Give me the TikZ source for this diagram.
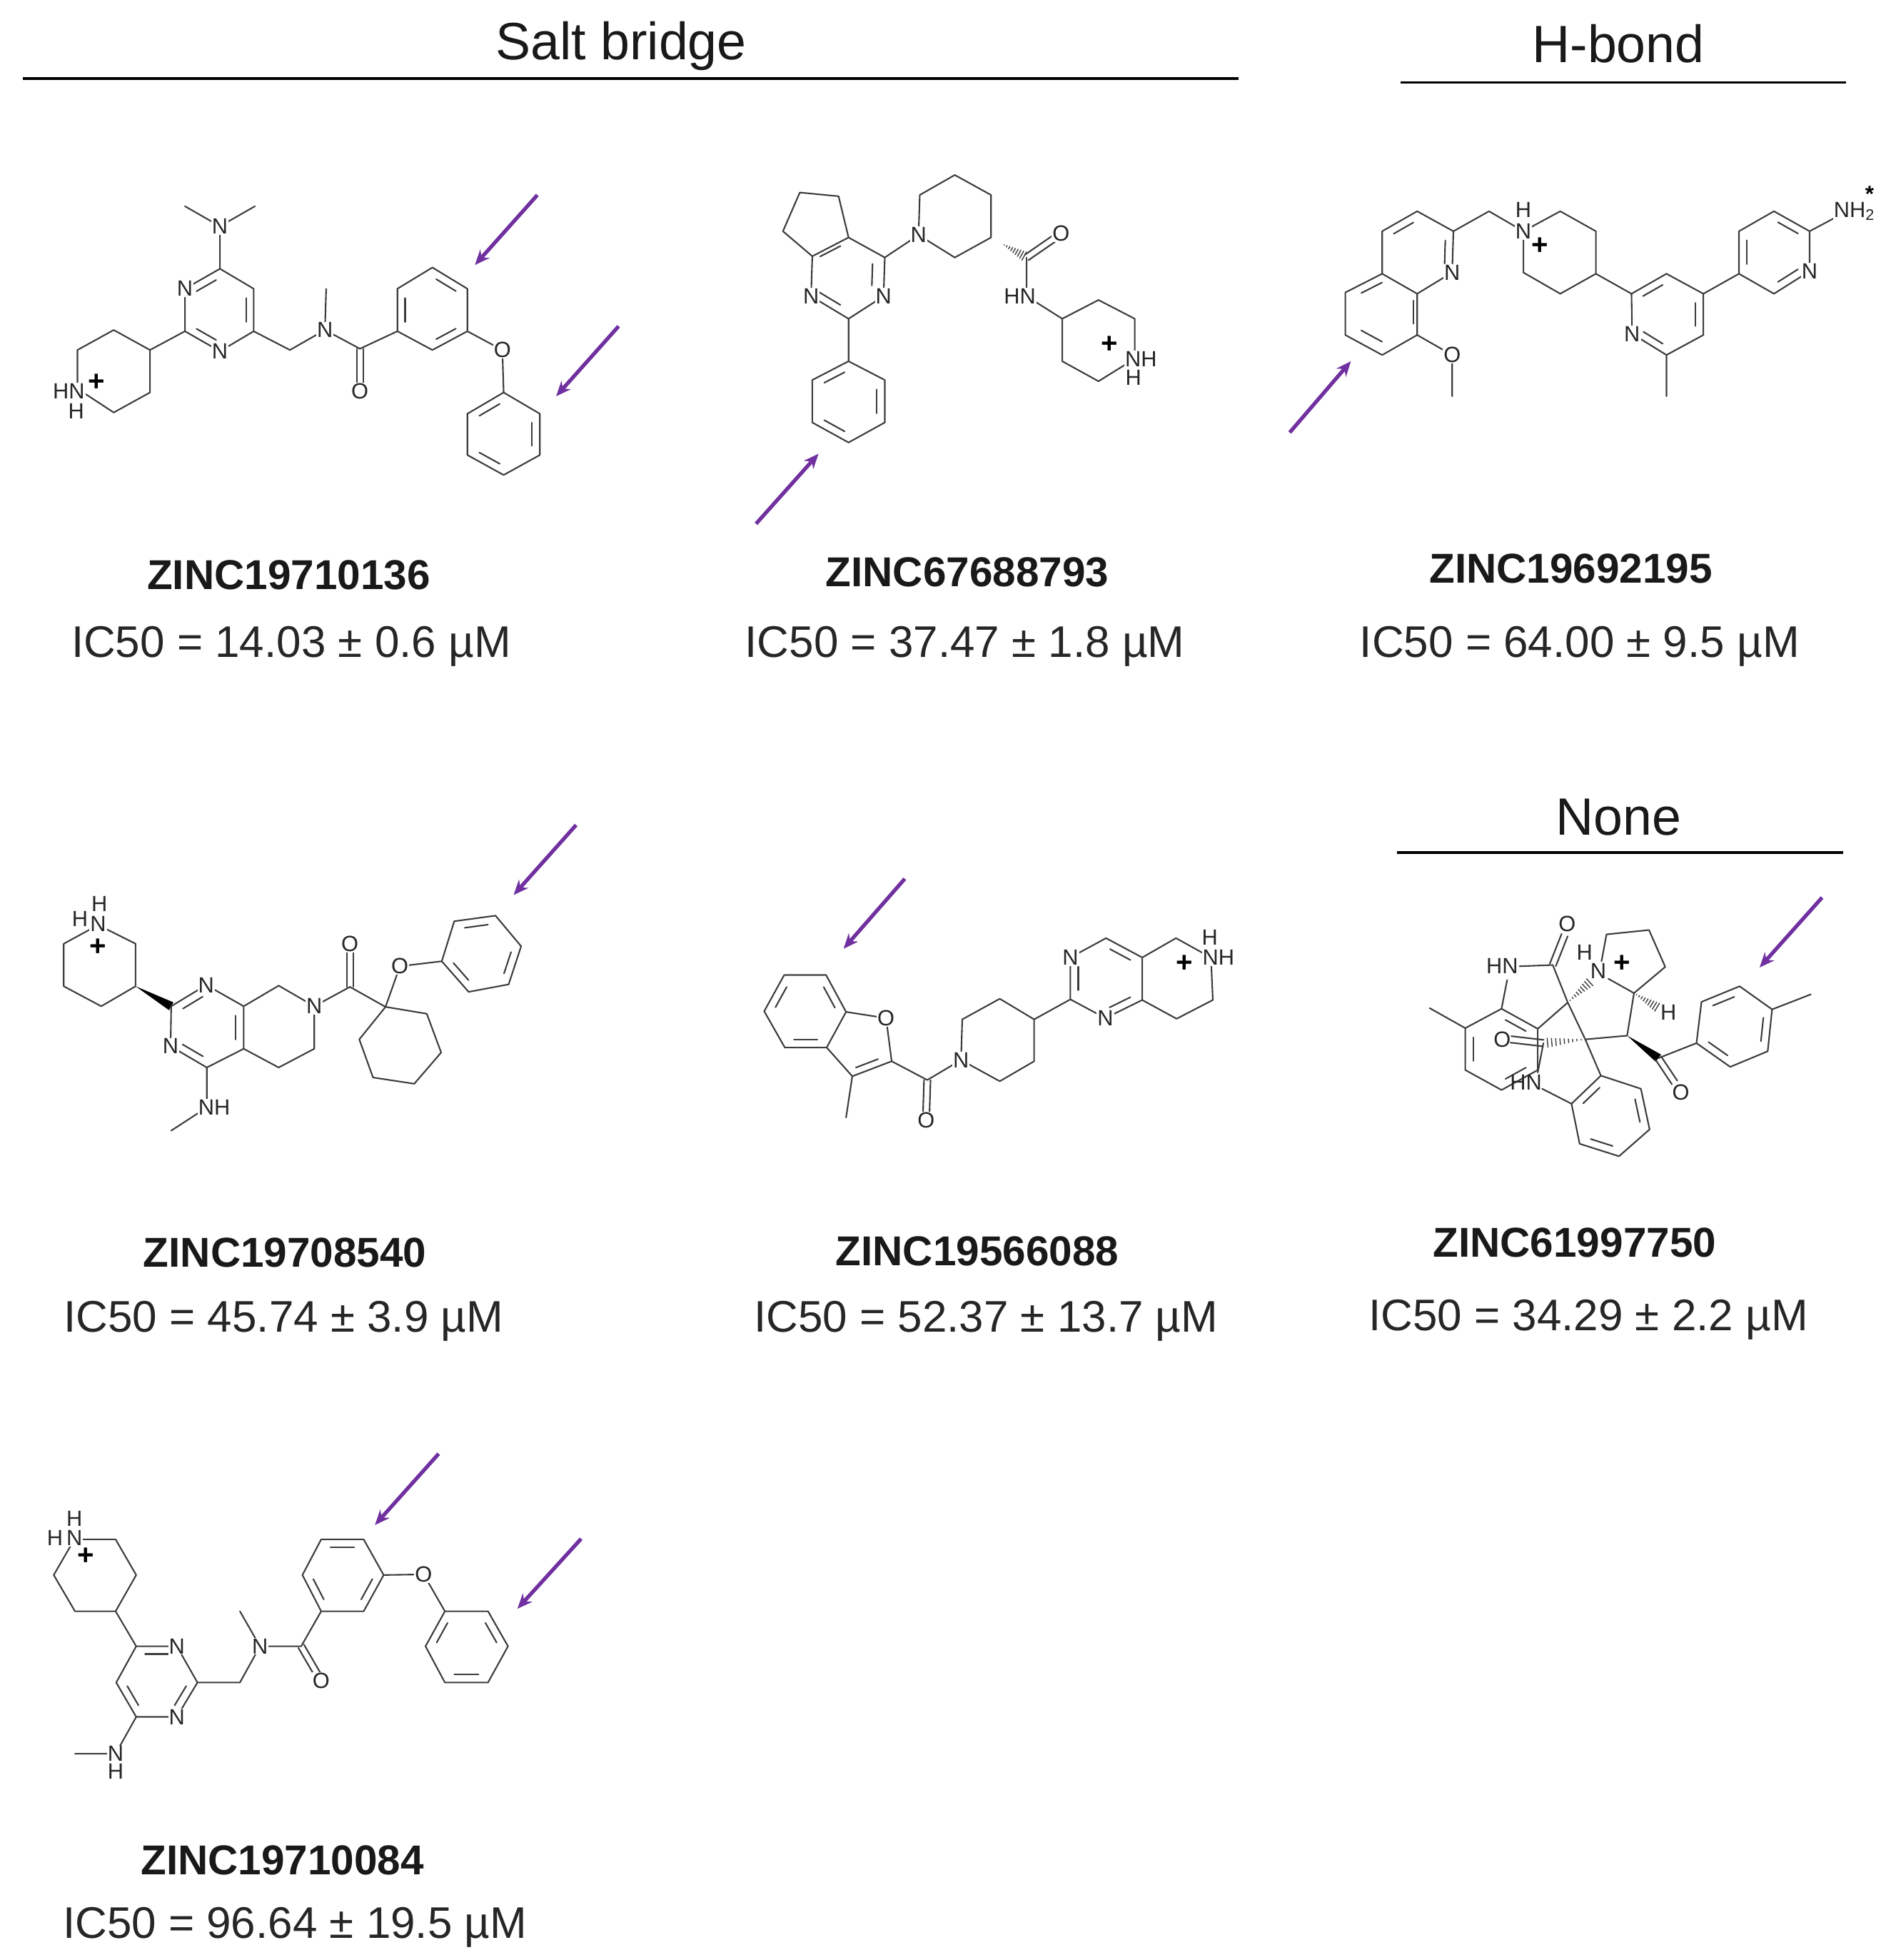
\documentclass[tikz,border=0pt]{standalone}
\usepackage{fontspec}
\setmainfont{Liberation Sans}
\usetikzlibrary{calc,arrows.meta}
\definecolor{bondc}{HTML}{3C3C3C}
\definecolor{arrowc}{HTML}{7030A0}
\tikzset{
  bond/.style={draw=bondc,line width=.6pt,line join=round,line cap=round},
  atom/.style={font=\fontsize{8.8}{10}\selectfont,text=black!85,fill=white,inner sep=.3pt},
  atomnf/.style={font=\fontsize{8.8}{10}\selectfont,text=black!85,inner sep=0pt},
  charge/.style={font=\fontsize{11.5}{12}\selectfont\bfseries,text=black,inner sep=0pt},
  pointer/.style={draw=arrowc,line width=1.5pt,-{Stealth[length=6pt,width=5pt]}},
  heading/.style={font=\fontsize{21}{24}\selectfont,text=black!90,inner sep=0pt},
  rulehead/.style={draw=black,line width=1.1pt},
  zinc/.style={font=\fontsize{16.7}{20}\selectfont\bfseries,text=black!90,inner sep=0pt},
  ic/.style={font=\fontsize{17.7}{20}\selectfont,text=black!85,inner sep=0pt},
}
\newcommand\dblbond[3]{%
  \coordinate (dp) at ($(#1)!.22!(#3)$);\coordinate (dq) at ($(#2)!.22!(#3)$);%
  \draw[bond] ($(dp)!.14!(dq)$) -- ($(dp)!.86!(dq)$);}
\newcommand\cobond[2]{%
  \draw[bond] ($(#1)!1.3pt!90:(#2)$) -- ($(#2)!1.3pt!-90:(#1)$);%
  \draw[bond] ($(#1)!1.3pt!-90:(#2)$) -- ($(#2)!1.3pt!90:(#1)$);}
\newcommand\wedgebond[2]{%
  \fill[black] (#1) -- ($(#2)!1.8pt!90:(#1)$) -- ($(#2)!1.8pt!-90:(#1)$) -- cycle;}
\newcommand\hashbond[2]{%
  \foreach \hs in {.1,.2,.3,.4,.5,.6,.7,.8,.9}{%
    \pgfmathsetlengthmacro\hw{\hs*2.2pt}%
    \draw[draw=bondc,line width=.4pt] ($(#1)!\hs!(#2)!\hw!90:(#2)$) -- ($(#1)!\hs!(#2)!\hw!-90:(#2)$);}}
\begin{document}
\begin{tikzpicture}[x=.5pt,y=-.5pt]
\useasboundingbox (0,0) rectangle (1505,1568);
% headings
\node[heading] (h1) at (497,37) {Salt bridge};
\node[heading] (h2) at (1295,35) {H-bond};
\node[heading] (h3) at (1295,654) {None};
\coordinate (r1a) at (18,63);\coordinate (r1b) at (991,63);
\coordinate (r2a) at (1121,66);\coordinate (r2b) at (1477,66);
\coordinate (r3a) at (1118,682);\coordinate (r3b) at (1475,682);
\draw[rulehead] (r1a)--(r1b);\draw[rulehead] (r2a)--(r2b);\draw[rulehead] (r3a)--(r3b);
% captions
\node[zinc] (z1) at (231,460) {ZINC19710136};
\node[ic] (i1) at (233,517) {IC50 = 14.03 ± 0.6 µM};
\node[zinc] (z2) at (774,458) {ZINC67688793};
\node[ic] (i2) at (772,517) {IC50 = 37.47 ± 1.8 µM};
\node[zinc] (z3) at (1257,455) {ZINC19692195};
\node[ic] (i3) at (1264,517) {IC50 = 64.00 ± 9.5 µM};
\node[zinc] (z4) at (228,1002) {ZINC19708540};
\node[ic] (i4) at (227,1057) {IC50 = 45.74 ± 3.9 µM};
\node[zinc] (z5) at (782,1001) {ZINC19566088};
\node[ic] (i5) at (789,1057) {IC50 = 52.37 ± 13.7 µM};
\node[zinc] (z6) at (1260,994) {ZINC61997750};
\node[ic] (i6) at (1271,1056) {IC50 = 34.29 ± 2.2 µM};
\node[zinc] (z7) at (226,1488) {ZINC19710084};
\node[ic] (i7) at (236,1542) {IC50 = 96.64 ± 19.5 µM};
% arrows
\foreach \xa/\ya/\xb/\yb/\nm in {430/156/380/212/a,495/261/445/317/b,605/419/655/363/c,1032/346/1081/289/d,461/660/411/716/e,724/703/675/759/f,1458/718/1408/774/g,351/1163/300/1220/h,465/1231/414/1287/i}{
  \coordinate (ar\nm s) at (\xa,\ya);\coordinate (ar\nm e) at (\xb,\yb);
  \draw[pointer] (ar\nm s)--(ar\nm e);}
%
% ===== molecule 1
\begin{scope}
\path coordinate (n0) at (176,181) coordinate (m1) at (148,165) coordinate (m2) at (204,165)
 coordinate (p1) at (176,215) coordinate (p2) at (203,231) coordinate (p3) at (203,265) coordinate (p4) at (176,281) coordinate (p5) at (148,265) coordinate (p6) at (148,231)
 coordinate (q1) at (120,280) coordinate (q2) at (91,264) coordinate (q3) at (62,280) coordinate (q4) at (62,311) coordinate (q5) at (91,330) coordinate (q6) at (120,314)
 coordinate (c1) at (232,280) coordinate (n1) at (260,264) coordinate (m3) at (261,231) coordinate (c2) at (288,279) coordinate (o1) at (288,313)
 coordinate (r1) at (318,265) coordinate (r2) at (318,231) coordinate (r3) at (346,214) coordinate (r4) at (374,231) coordinate (r5) at (374,265) coordinate (r6) at (346,280)
 coordinate (o2) at (402,280) coordinate (s1) at (403,314) coordinate (s2) at (432,331) coordinate (s3) at (432,364) coordinate (s4) at (403,380) coordinate (s5) at (374,364) coordinate (s6) at (374,331);
\path coordinate (cp) at ($(p1)!.5!(p4)$) coordinate (cr) at ($(r1)!.5!(r4)$) coordinate (cs) at ($(s1)!.5!(s4)$);
\draw[bond] (m1)--(n0)--(m2) (n0)--(p1)--(p2)--(p3)--(p4)--(p5)--(p6)--(p1);
\draw[bond] (p5)--(q1)--(q2)--(q3)--(q4)--(q5)--(q6)--(q1);
\draw[bond] (p3)--(c1)--(n1)--(c2)--(r1)--(r2)--(r3)--(r4)--(r5)--(r6)--(r1) (n1)--(m3);
\cobond{c2}{o1}
\draw[bond] (r5)--(o2)--(s1)--(s2)--(s3)--(s4)--(s5)--(s6)--(s1);
\dblbond{p6}{p1}{cp}\dblbond{p2}{p3}{cp}\dblbond{p5}{p4}{cp}
\dblbond{r1}{r2}{cr}\dblbond{r3}{r4}{cr}\dblbond{r5}{r6}{cr}
\dblbond{s1}{s6}{cs}\dblbond{s2}{s3}{cs}\dblbond{s4}{s5}{cs}
\node[atom] (l1) at (n0) {N};\node[atom] (l2) at (p6) {N};\node[atom] (l3) at (p4) {N};
\node[atom] (l4) at (n1) {N};\node[atom] (l5) at (o1) {O};\node[atom] (l6) at (o2) {O};
\node[atom] (l7) at (55,313) {HN};\node[atomnf] (l8) at (61,329) {H};\node[charge] (l9) at (77,306) {+};
\end{scope}
%
% ===== molecule 2
\begin{scope}
\path coordinate (a1) at (640,154) coordinate (a2) at (671,157) coordinate (a3) at (679,190) coordinate (a4) at (650,205) coordinate (a5) at (626.5,185)
 coordinate (p1) at (708,206) coordinate (p2) at (707,237) coordinate (p3) at (679,255) coordinate (p4) at (649,237)
 coordinate (s1) at (679,289) coordinate (s2) at (708,304) coordinate (s3) at (708,338) coordinate (s4) at (679,354) coordinate (s5) at (650,338) coordinate (s6) at (650,304)
 coordinate (n1) at (735,188) coordinate (q1) at (736,156) coordinate (q2) at (764,140) coordinate (q3) at (793,156) coordinate (q4) at (793,190) coordinate (q5) at (764,206)
 coordinate (c1) at (821.5,206) coordinate (o1) at (849,187) coordinate (n2) at (821.5,237)
 coordinate (t1) at (850,255) coordinate (t2) at (879,240) coordinate (t3) at (908,255) coordinate (t4) at (908,287) coordinate (t5) at (879,305) coordinate (t6) at (850,289);
\path coordinate (cp) at ($(a3)!.5!(p4)$) coordinate (cs) at ($(s1)!.5!(s4)$) coordinate (hs) at ($(q4)!.3!(c1)$);
\draw[bond] (a1)--(a2)--(a3)--(a4)--(a5)--(a1) (a3)--(p1)--(p2)--(p3)--(p4)--(a4);
\draw[bond] (p3)--(s1)--(s2)--(s3)--(s4)--(s5)--(s6)--(s1);
\draw[bond] (p1)--(n1)--(q1)--(q2)--(q3)--(q4)--(q5)--(n1);
\hashbond{hs}{c1}
\draw[bond] (c1)--(n2)--(t1)--(t2)--(t3)--(t4)--(t5)--(t6)--(t1);
\cobond{c1}{o1}
\dblbond{a3}{a4}{cp}\dblbond{p1}{p2}{cp}\dblbond{p4}{p3}{cp}
\dblbond{s1}{s6}{cs}\dblbond{s2}{s3}{cs}\dblbond{s4}{s5}{cs}
\node[atom] (l1) at (p2) {N};\node[atom] (l2) at (p4) {N};\node[atom] (l3) at (n1) {N};
\node[atom] (l4) at (o1) {O};\node[atom] (l5) at (816,237) {HN};
\node[atom] (l6) at (913,287) {NH};\node[atomnf] (l7) at (907,302) {H};\node[charge] (l8) at (888,276) {+};
\end{scope}
%
% ===== molecule 3
\begin{scope}
\path coordinate (a1) at (1134,169) coordinate (a2) at (1106,185) coordinate (a3) at (1106,219) coordinate (a4) at (1134,235) coordinate (a5) at (1162,218) coordinate (a6) at (1163,185)
 coordinate (b1) at (1076.5,234) coordinate (b2) at (1076.5,268) coordinate (b3) at (1106,284) coordinate (b4) at (1134,268)
 coordinate (o1) at (1162,284) coordinate (m1) at (1162,317) coordinate (c1) at (1191.5,169) coordinate (n1) at (1219,185)
 coordinate (q1) at (1248.5,169) coordinate (q2) at (1277,185) coordinate (q3) at (1277,219) coordinate (q4) at (1248.5,235) coordinate (q5) at (1219,218)
 coordinate (p1) at (1305.5,235) coordinate (p2) at (1333.5,219) coordinate (p3) at (1363,235) coordinate (p4) at (1363,268) coordinate (p5) at (1333.5,284) coordinate (p6) at (1306,267) coordinate (m2) at (1333.5,317)
 coordinate (t1) at (1391.5,219) coordinate (t2) at (1391.5,185) coordinate (t3) at (1419.5,169) coordinate (t4) at (1448,185) coordinate (t5) at (1448,217) coordinate (t6) at (1419.5,235)
 coordinate (n2) at (1478,169);
\path coordinate (ca) at ($(a1)!.5!(a4)$) coordinate (cb) at ($(a3)!.5!(b4)$) coordinate (cp) at ($(p2)!.5!(p5)$) coordinate (ct) at ($(t2)!.5!(t5)$);
\draw[bond] (a1)--(a2)--(a3)--(a4)--(a5)--(a6)--(a1) (a3)--(b1)--(b2)--(b3)--(b4)--(a4) (b4)--(o1)--(m1);
\draw[bond] (a6)--(c1)--(n1)--(q1)--(q2)--(q3)--(q4)--(q5)--(n1);
\draw[bond] (q3)--(p1)--(p2)--(p3)--(p4)--(p5)--(p6)--(p1) (p5)--(m2);
\draw[bond] (p3)--(t1)--(t2)--(t3)--(t4)--(t5)--(t6)--(t1) (t4)--(n2);
\dblbond{a2}{a1}{ca}\dblbond{a6}{a5}{ca}\dblbond{a3}{b1}{cb}\dblbond{b2}{b3}{cb}\dblbond{a4}{b4}{cb}
\dblbond{p1}{p2}{cp}\dblbond{p3}{p4}{cp}\dblbond{p6}{p5}{cp}
\dblbond{t1}{t2}{ct}\dblbond{t3}{t4}{ct}\dblbond{t5}{t6}{ct}
\node[atom] (l1) at (a5) {N};\node[atom] (l2) at (o1) {O};\node[atom] (l3) at (n1) {N};\node[atomnf] (l4) at (1219,168) {H};
\node[charge] (l5) at (1232,197) {+};\node[atom] (l6) at (p6) {N};\node[atom] (l7) at (t5) {N};
\node[atom] (l8) at (1484,169) {NH\textsubscript{2}};\node[charge,font=\fontsize{9}{9}\selectfont\bfseries] (l9) at (1496,155) {*};
\end{scope}
%
% ===== molecule 4
\begin{scope}
\path coordinate (n1) at (78.5,740) coordinate (q1) at (108.5,755) coordinate (q2) at (108.5,789) coordinate (q3) at (81,805) coordinate (q4) at (51,789) coordinate (q5) at (51,755)
 coordinate (p1) at (137,805) coordinate (p2) at (165,788) coordinate (p3) at (195,805) coordinate (p4) at (195,839) coordinate (p5) at (165.5,854) coordinate (p6) at (136.5,837)
 coordinate (t1) at (223,788.5) coordinate (t2) at (251.5,805) coordinate (t3) at (251.5,839) coordinate (t4) at (223,854)
 coordinate (c1) at (280,789.5) coordinate (o1) at (280,755) coordinate (x0) at (308.5,805.5)
 coordinate (x1) at (341.5,811) coordinate (x2) at (353,842) coordinate (x3) at (331.5,867) coordinate (x4) at (298.5,862) coordinate (x5) at (287.5,831.5)
 coordinate (o2) at (320,773) coordinate (s1) at (353.5,769) coordinate (s2) at (363.5,737) coordinate (s3) at (396.5,732.5) coordinate (s4) at (417,757) coordinate (s5) at (407,787.5) coordinate (s6) at (375,793.5)
 coordinate (n3) at (165.5,886) coordinate (m1) at (137,904.5);
\path coordinate (cp) at ($(p1)!.5!(p4)$) coordinate (cs) at ($(s1)!.5!(s4)$);
\draw[bond] (n1)--(q1)--(q2)--(q3)--(q4)--(q5)--(n1);
\wedgebond{q2}{p1}
\draw[bond] (p1)--(p2)--(p3)--(p4)--(p5)--(p6)--(p1) (p3)--(t1)--(t2)--(t3)--(t4)--(p4);
\draw[bond] (t2)--(c1)--(x0)--(x1)--(x2)--(x3)--(x4)--(x5)--(x0) (x0)--(o2)--(s1)--(s2)--(s3)--(s4)--(s5)--(s6)--(s1);
\draw[bond] (p5)--(n3)--(m1);
\cobond{c1}{o1}
\dblbond{p1}{p2}{cp}\dblbond{p3}{p4}{cp}\dblbond{p6}{p5}{cp}
\dblbond{s2}{s3}{cs}\dblbond{s4}{s5}{cs}\dblbond{s6}{s1}{cs}
\node[atom] (l1) at (78.5,739) {N};\node[atomnf] (l2) at (79.5,723) {H};\node[atomnf] (l3) at (64,735) {H};\node[charge] (l4) at (78.5,758) {+};
\node[atom] (l5) at (p2) {N};\node[atom] (l6) at (p6) {N};\node[atom] (l7) at (t2) {N};
\node[atom] (l8) at (o1) {O};\node[atom] (l9) at (o2) {O};\node[atom] (l10) at (171.5,886) {NH};
\end{scope}
%
% ===== molecule 5
\begin{scope}
\path coordinate (a1) at (627.5,780) coordinate (a2) at (661,780) coordinate (a3) at (677,809.5) coordinate (a4) at (661.5,838) coordinate (a5) at (628,838) coordinate (a6) at (611.5,809)
 coordinate (o1) at (709,814.5) coordinate (f1) at (713.5,849) coordinate (f2) at (682,861) coordinate (m1) at (677,894)
 coordinate (c1) at (742,864) coordinate (o2) at (741,896)
 coordinate (n1) at (769,848) coordinate (q1) at (770,815.5) coordinate (q2) at (800,799) coordinate (q3) at (827.5,815.5) coordinate (q4) at (827.5,849) coordinate (q5) at (800,865)
 coordinate (p1) at (856.5,799.5) coordinate (p2) at (856.5,766) coordinate (p3) at (885,750.5) coordinate (p4) at (914,766) coordinate (p5) at (914,800) coordinate (p6) at (884.5,814.5)
 coordinate (t1) at (941,750.5) coordinate (t2) at (969,766) coordinate (t3) at (970.5,800) coordinate (t4) at (941.5,815);
\path coordinate (ca) at ($(a1)!.5!(a4)$) coordinate (cf) at ($(a3)!.5!(f2)$) coordinate (cp) at ($(p1)!.5!(p4)$);
\draw[bond] (a1)--(a2)--(a3)--(a4)--(a5)--(a6)--(a1) (a3)--(o1)--(f1)--(f2)--(a4) (f2)--(m1);
\draw[bond] (f1)--(c1)--(n1)--(q1)--(q2)--(q3)--(q4)--(q5)--(n1);
\cobond{c1}{o2}
\draw[bond] (q3)--(p1)--(p2)--(p3)--(p4)--(p5)--(p6)--(p1) (p4)--(t1)--(t2)--(t3)--(t4)--(p5);
\dblbond{a1}{a6}{ca}\dblbond{a2}{a3}{ca}\dblbond{a4}{a5}{ca}\dblbond{f1}{f2}{cf}
\dblbond{p2}{p1}{cp}\dblbond{p3}{p4}{cp}\dblbond{p5}{p6}{cp}
\node[atom] (l1) at (o1) {O};\node[atom] (l2) at (o2) {O};\node[atom] (l3) at (n1) {N};\node[atom] (l4) at (p2) {N};\node[atom] (l5) at (p6) {N};
\node[atom] (l6) at (975,766) {NH};\node[atomnf] (l7) at (968,750) {H};\node[charge] (l8) at (948,771) {+};
\end{scope}
%
% ===== molecule 6
\begin{scope}
\path coordinate (a1) at (1201.5,807) coordinate (a2) at (1230.5,823) coordinate (a3) at (1230.5,856) coordinate (a4) at (1201.5,872) coordinate (a5) at (1172.5,856) coordinate (a6) at (1172.5,822.5) coordinate (m1) at (1144,806.5)
 coordinate (n1a) at (1206,784) coordinate (n1b) at (1216,773) coordinate (c1) at (1242.5,772) coordinate (o1) at (1252,748) coordinate (s1) at (1254.5,802) coordinate (s2) at (1268.5,831.5) coordinate (x1) at (1302,828.5) coordinate (x2) at (1307.5,794.5)
 coordinate (n2a) at (1281.5,769) coordinate (n2b) at (1287,783) coordinate (y1) at (1285.5,747.5) coordinate (y2) at (1319.5,744) coordinate (y3) at (1332.5,773.5)
 coordinate (hs1) at (1274,784) coordinate (hx) at (1328,807)
 coordinate (c2) at (1235,834.5) coordinate (o2) at (1209,831.5) coordinate (n3a) at (1230.5,858) coordinate (n3b) at (1234,871)
 coordinate (b1) at (1281,860.5) coordinate (b2) at (1313,871) coordinate (b3) at (1320,903.5) coordinate (b4) at (1295.5,925) coordinate (b5) at (1264,915) coordinate (b6) at (1257.5,883)
 coordinate (c3) at (1327,846.5) coordinate (o3) at (1340,866) coordinate (t1) at (1357.5,834.5) coordinate (t2) at (1361.5,801.5) coordinate (t3) at (1392,789) coordinate (t4) at (1418,807.5) coordinate (t5) at (1414.5,841) coordinate (t6) at (1384.5,853.5) coordinate (m2) at (1449,795.5);
\path coordinate (ca) at ($(a1)!.5!(a4)$) coordinate (cb) at ($(b1)!.5!(b4)$) coordinate (ct) at ($(t2)!.5!(t5)$);
\draw[bond] (a1)--(a2)--(a3)--(a4)--(a5)--(a6)--(a1) (a6)--(m1) (a1)--(n1a) (n1b)--(c1)--(s1)--(a2);
\cobond{c1}{o1}
\draw[bond] (s1)--(s2)--(x1)--(x2)--(n2b) (n2a)--(y1)--(y2)--(y3)--(x2) (s2)--(b1)--(b2)--(b3)--(b4)--(b5)--(b6)--(b1);
\hashbond{s1}{hs1}\hashbond{x2}{hx}\hashbond{s2}{c2}
\cobond{c2}{o2}
\draw[bond] (c2)--(n3a) (n3b)--(b6);
\wedgebond{x1}{c3}
\draw[bond] (c3)--(t1)--(t2)--(t3)--(t4)--(t5)--(t6)--(t1) (t4)--(m2);
\cobond{c3}{o3}
\dblbond{a1}{a2}{ca}\dblbond{a5}{a6}{ca}\dblbond{a3}{a4}{ca}
\dblbond{b1}{b6}{cb}\dblbond{b2}{b3}{cb}\dblbond{b4}{b5}{cb}
\dblbond{t2}{t3}{ct}\dblbond{t4}{t5}{ct}\dblbond{t6}{t1}{ct}
\node[atomnf] (l1) at (1202,773) {HN};\node[atomnf] (l2) at (1254,739) {O};\node[atomnf] (l3) at (1268,762) {H};
\node[atomnf] (l4) at (1279,777) {N};\node[charge] (l5) at (1298,771) {+};\node[atomnf] (l6) at (1335,810) {H};
\node[atomnf] (l7) at (1202,831.5) {O};\node[atomnf] (l8) at (1221,866) {HN};\node[atomnf] (l9) at (1345,874) {O};
\end{scope}
%
% ===== molecule 7
\begin{scope}
\path coordinate (n1) at (59.5,1231.5) coordinate (q1) at (92.5,1231.5) coordinate (q2) at (109,1260) coordinate (q3) at (92.5,1289) coordinate (q4) at (60,1289) coordinate (q5) at (43,1260)
 coordinate (p1) at (109,1317) coordinate (p2) at (141.5,1317) coordinate (p3) at (158,1346) coordinate (p4) at (141.5,1373.5) coordinate (p5) at (109,1373.5) coordinate (p6) at (93,1346)
 coordinate (n3) at (92.5,1403) coordinate (m1) at (60,1403) coordinate (c1) at (192,1346) coordinate (n2) at (208,1317) coordinate (m2) at (192,1289) coordinate (c2) at (241,1317) coordinate (o1) at (257,1344.5)
 coordinate (r1) at (257,1289) coordinate (r2) at (242,1260) coordinate (r3) at (257,1231.5) coordinate (r4) at (291,1231.5) coordinate (r5) at (307,1260) coordinate (r6) at (291,1289)
 coordinate (o2) at (339,1259.5) coordinate (s1) at (356,1289) coordinate (s2) at (340.5,1317) coordinate (s3) at (356,1346) coordinate (s4) at (390.5,1346) coordinate (s5) at (406.5,1317) coordinate (s6) at (390.5,1289);
\path coordinate (cp) at ($(p1)!.5!(p4)$) coordinate (cr) at ($(r1)!.5!(r4)$) coordinate (cs) at ($(s1)!.5!(s4)$);
\draw[bond] (n1)--(q1)--(q2)--(q3)--(q4)--(q5)--(n1) (q3)--(p1)--(p2)--(p3)--(p4)--(p5)--(p6)--(p1) (p5)--(n3)--(m1);
\draw[bond] (p3)--(c1)--(n2)--(c2)--(r1)--(r2)--(r3)--(r4)--(r5)--(r6)--(r1) (n2)--(m2);
\cobond{c2}{o1}
\draw[bond] (r5)--(o2)--(s1)--(s2)--(s3)--(s4)--(s5)--(s6)--(s1);
\dblbond{p1}{p2}{cp}\dblbond{p3}{p4}{cp}\dblbond{p5}{p6}{cp}
\dblbond{r3}{r4}{cr}\dblbond{r5}{r6}{cr}\dblbond{r1}{r2}{cr}
\dblbond{s1}{s2}{cs}\dblbond{s3}{s4}{cs}\dblbond{s5}{s6}{cs}
\node[atom] (l1) at (59.5,1230.5) {N};\node[atomnf] (l2) at (59.5,1215) {H};\node[atomnf] (l3) at (44,1230.5) {H};\node[charge] (l4) at (68.5,1245) {+};
\node[atom] (l5) at (p2) {N};\node[atom] (l6) at (p4) {N};\node[atom] (l7) at (n3) {N};\node[atomnf] (l8) at (92.5,1417) {H};
\node[atom] (l9) at (n2) {N};\node[atom] (l10) at (o1) {O};\node[atom] (l11) at (o2) {O};
\end{scope}
\end{tikzpicture}
\end{document}
